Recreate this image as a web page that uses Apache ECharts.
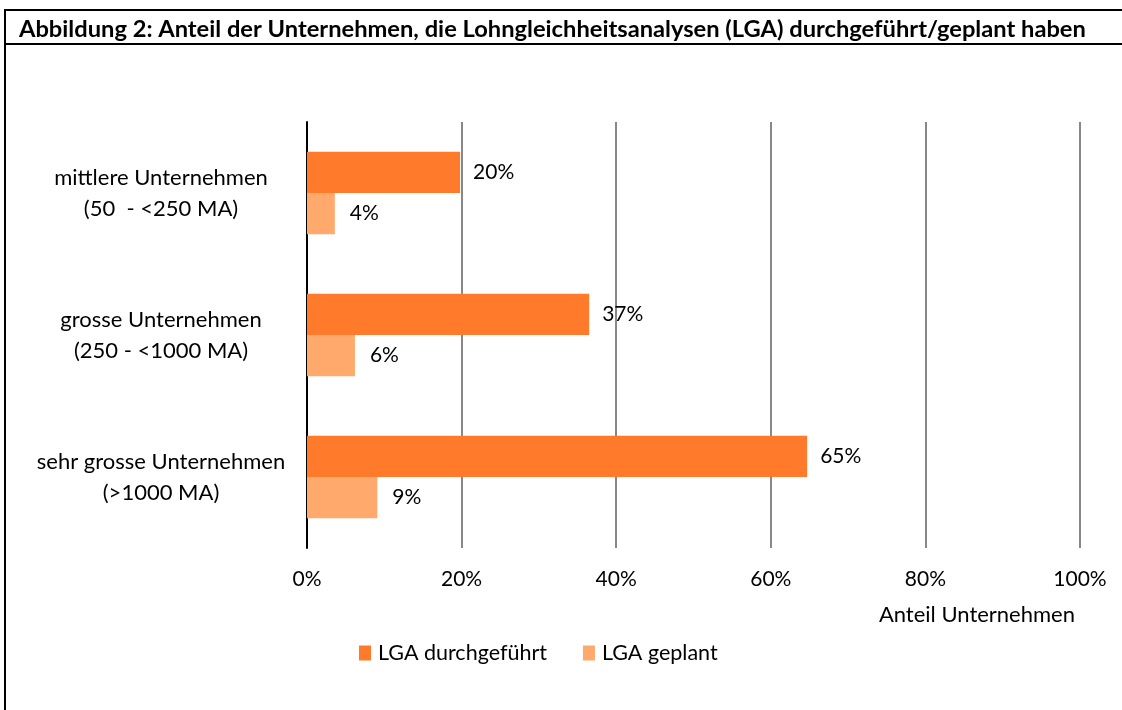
<!DOCTYPE html>
<html>
<head>
<meta charset="utf-8">
<script src="https://cdn.jsdelivr.net/npm/echarts@6/dist/echarts.min.js"></script>
<style>
  html, body { margin: 0; padding: 0; background: #fff; }
  #chart { width: 1122px; height: 710px; }
</style>
</head>
<body>
<div id="chart"></div>
<script>
// Daten
const categories = ['mittlere Unternehmen\n(50  - <250 MA)', 'grosse Unternehmen\n(250 - <1000 MA)', 'sehr grosse Unternehmen\n(>1000 MA)'];
const durchgefuehrt = [19.8, 36.5, 64.7];
const geplant = [3.6, 6.2, 9.1];
const xTicks = [0, 20, 40, 60, 80, 100];

const FONT = 'Lato';

const chart = echarts.init(document.getElementById('chart'));

chart.setOption({
    animation: false,
    textStyle: { fontFamily: FONT, color: '#000' },
    title: [{
        text: 'Abbildung 2: Anteil der Unternehmen, die Lohngleichheitsanalysen (LGA) durchgeführt/geplant haben',
        left: 14,
        top: 12,
        textStyle: { fontFamily: FONT, fontSize: 23.7, fontWeight: 'bold', color: '#000' }
    }, {
        text: 'Anteil Unternehmen',
        right: 42,
        top: 599,
        textStyle: { fontFamily: FONT, fontSize: 22, fontWeight: 'normal', color: '#000' }
    }],
    graphic: [{
        type: 'rect',
        shape: { x: 5, y: 10, width: 1140, height: 720 },
        style: { fill: 'none', stroke: '#000', lineWidth: 2 }
    }, {
        type: 'line',
        shape: { x1: 5, y1: 44, x2: 1122, y2: 44 },
        style: { stroke: '#000', lineWidth: 2 }
    }],
    legend: {
        left: 354,
        top: 637,
        icon: 'rect',
        itemWidth: 12,
        itemHeight: 15,
        itemGap: 36,
        textStyle: { fontFamily: FONT, fontSize: 21.5, color: '#000', padding: [0, 0, 0, 2] },
        data: ['LGA durchgeführt', 'LGA geplant']
    },
    grid: { left: 307, right: 42, top: 122, bottom: 162 },
    xAxis: {
        type: 'value',
        min: xTicks[0],
        max: xTicks[xTicks.length - 1],
        interval: 20,
        axisLine: { show: false },
        axisTick: { show: false },
        splitLine: { lineStyle: { color: '#888', width: 2 } },
        axisLabel: { formatter: '{value}%', fontSize: 21, color: '#000', margin: 21 }
    },
    yAxis: {
        type: 'category',
        inverse: true,
        data: categories,
        axisLine: { lineStyle: { color: '#000', width: 2 } },
        axisTick: { show: false },
        axisLabel: { fontSize: 22, color: '#000', align: 'center', margin: 146, lineHeight: 31 }
    },
    series: [{
        name: 'LGA durchgeführt',
        type: 'bar',
        data: durchgefuehrt,
        barGap: '0%',
        barCategoryGap: '42%',
        itemStyle: { color: '#FF7B2B' },
        label: {
            show: true, position: 'right', distance: 13, fontSize: 21, color: '#000',
            formatter: p => Math.round(p.value) + '%'
        }
    }, {
        name: 'LGA geplant',
        type: 'bar',
        data: geplant,
        itemStyle: { color: '#FFAA6C' },
        label: {
            show: true, position: 'right', distance: 15, fontSize: 21, color: '#000',
            formatter: p => Math.round(p.value) + '%'
        }
    }]
});
</script>
</body>
</html>
